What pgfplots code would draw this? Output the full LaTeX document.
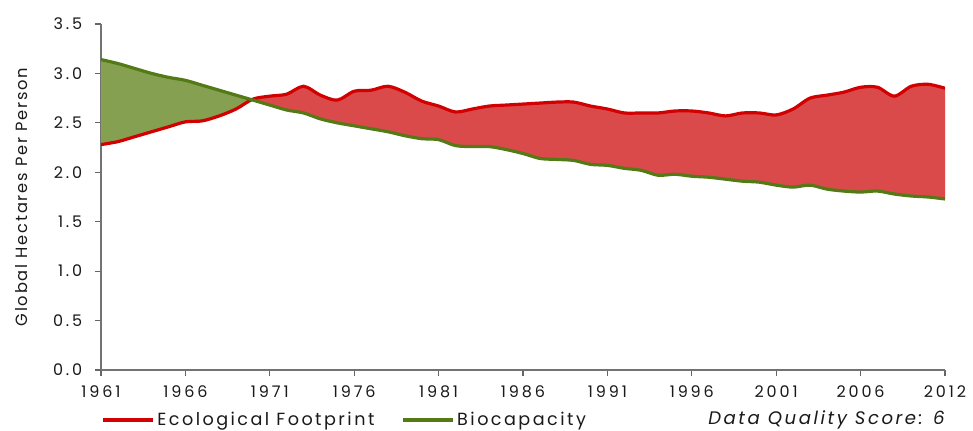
\documentclass[border=0pt]{standalone}
\usepackage{pgfplots}
\pgfplotsset{compat=1.18}
\usepgfplotslibrary{fillbetween}
\usepackage{fontspec}
\setmainfont{Poppins}
\newfontfamily\tickfont[LetterSpace=18]{Poppins}
\newfontfamily\legfont[LetterSpace=14]{Poppins}
\newfontfamily\labfont[LetterSpace=11]{Poppins}
\definecolor{redline}{RGB}{210,0,0}
\definecolor{redfill}{RGB}{219,74,74}
\definecolor{greenline}{RGB}{84,122,22}
\definecolor{greenfill}{RGB}{134,160,82}
\begin{document}
\begin{tikzpicture}
\begin{axis}[
  at={(75.75pt,45pt)}, anchor=south west,
  scale only axis, width=633pt, height=259.5pt,
  xmin=1961, xmax=2011, ymin=0, ymax=3.5,
  axis lines*=left,
  axis line style={-, draw=black!55, line width=0.8pt},
  xtick={1961,1966,...,2011},
  xticklabels={1961,1966,1971,1976,1981,1986,1991,1996,2001,2006,2012},
  ytick={0,0.5,...,3.5},
  tick align=outside, major tick length=4.5pt,
  tick style={black!60, line width=0.8pt},
  ticklabel style={font=\tickfont\fontsize{12pt}{13pt}\selectfont, text=black!90},
  xticklabel style={yshift=-4pt},
  yticklabel style={xshift=-6pt, /pgf/number format/.cd, fixed, fixed zerofill, precision=1, assume math mode=true},
  ylabel={Global Hectares Per Person},
  ylabel style={at={(axis description cs:-0.0936,0.5)}, anchor=center, font=\labfont\fontsize{12.2pt}{13pt}\selectfont, text=black!90},
  legend style={at={(axis description cs:0,-0.1445)}, anchor=west, draw=none, fill=none,
    legend columns=2, font=\legfont\fontsize{13.2pt}{14pt}\selectfont, text=black!90,
    /tikz/every even column/.append style={column sep=18pt}, inner sep=0pt},
  legend image code/.code={\draw[#1, line width=2.6pt] (0pt,0pt) -- (37.5pt,0pt);},
]
\addplot[name path=ef, redline, line width=2.4pt, smooth, tension=0.5] coordinates {
(1961,2.28)(1962,2.31)(1963,2.36)(1964,2.41)(1965,2.46)(1966,2.51)(1967,2.52)(1968,2.57)(1969,2.64)(1970,2.74)
(1971,2.77)(1972,2.79)(1973,2.87)(1974,2.78)(1975,2.73)(1976,2.82)(1977,2.83)(1978,2.87)(1979,2.81)(1980,2.72)
(1981,2.67)(1982,2.61)(1983,2.64)(1984,2.67)(1985,2.68)(1986,2.69)(1987,2.70)(1988,2.71)(1989,2.71)(1990,2.67)
(1991,2.64)(1992,2.60)(1993,2.60)(1994,2.60)(1995,2.62)(1996,2.62)(1997,2.60)(1998,2.57)(1999,2.60)(2000,2.60)
(2001,2.58)(2002,2.64)(2003,2.75)(2004,2.78)(2005,2.81)(2006,2.86)(2007,2.86)(2008,2.77)(2009,2.87)(2010,2.89)
(2011,2.85)};
\addlegendentry{Ecological Footprint}
\addplot[name path=bc, greenline, line width=2.4pt, smooth, tension=0.5] coordinates {
(1961,3.14)(1962,3.10)(1963,3.05)(1964,3.00)(1965,2.96)(1966,2.93)(1967,2.88)(1968,2.83)(1969,2.78)(1970,2.73)
(1971,2.68)(1972,2.63)(1973,2.60)(1974,2.54)(1975,2.50)(1976,2.47)(1977,2.44)(1978,2.41)(1979,2.37)(1980,2.34)
(1981,2.33)(1982,2.27)(1983,2.26)(1984,2.26)(1985,2.23)(1986,2.19)(1987,2.14)(1988,2.13)(1989,2.12)(1990,2.08)
(1991,2.07)(1992,2.04)(1993,2.02)(1994,1.97)(1995,1.98)(1996,1.96)(1997,1.95)(1998,1.93)(1999,1.91)(2000,1.90)
(2001,1.87)(2002,1.85)(2003,1.87)(2004,1.83)(2005,1.81)(2006,1.80)(2007,1.81)(2008,1.78)(2009,1.76)(2010,1.75)
(2011,1.73)};
\addlegendentry{Biocapacity}
\addplot[forget plot, draw=none] fill between[of=ef and bc, split,
  every segment no 0/.style={fill=greenfill},
  every segment no 1/.style={fill=redfill}];
\end{axis}
\node[anchor=east, inner sep=0pt, font=\legfont\itshape\fontsize{13.6pt}{14pt}\selectfont, text=black!90] at (708.75pt,7.5pt) {Data Quality Score: 6};
\path (0,0) rectangle (729.75pt,322.5pt);
\end{tikzpicture}
\end{document}
